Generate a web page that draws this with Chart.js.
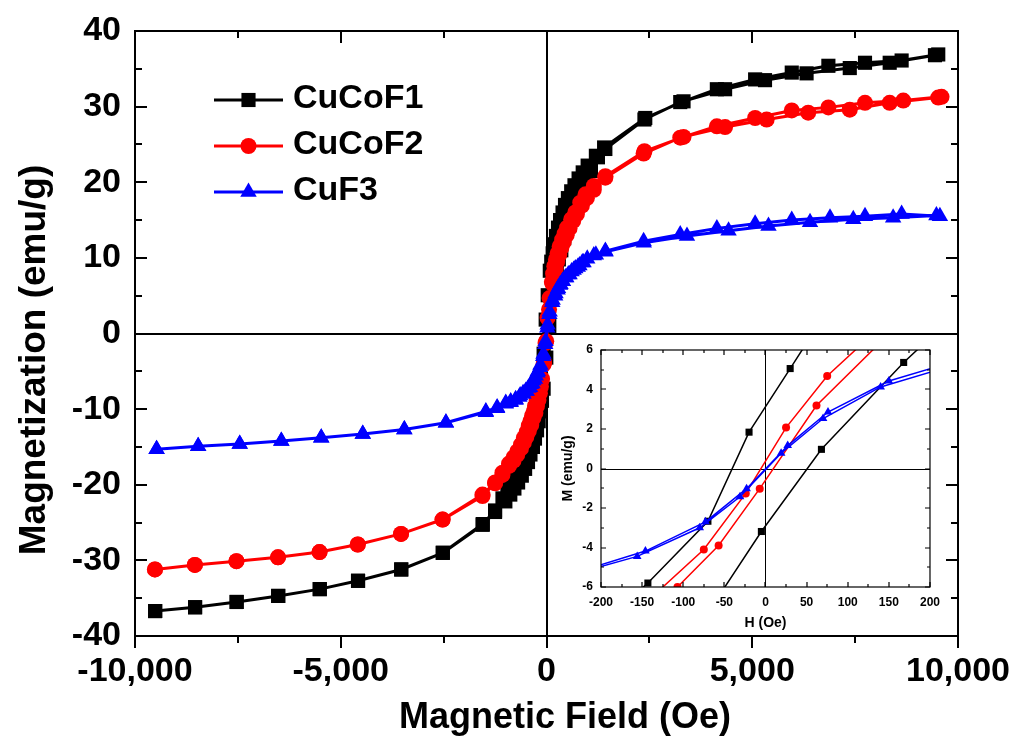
<!DOCTYPE html>
<html><head><meta charset="utf-8">
<script src="https://cdn.jsdelivr.net/npm/chart.js@4.4.1/dist/chart.umd.min.js"></script>
<style>
html,body{margin:0;padding:0;background:#fff;}
#wrap{position:relative;width:1029px;height:738px;background:#fff;}
#main{position:absolute;left:0;top:0;}
#inset{position:absolute;left:555px;top:336px;}
</style></head><body>
<div id="wrap">
<canvas id="main" width="1029" height="738"></canvas>
<canvas id="inset" width="395" height="298"></canvas>
</div>
<script>
// ---------------- data ----------------
const seriesNames = ['CuCoF1', 'CuCoF2', 'CuF3'];
const mainXTitle = 'Magnetic Field (Oe)';
const mainYTitle = 'Magnetization (emu/g)';
const insetXTitle = 'H (Oe)';
const insetYTitle = 'M (emu/g)';

// CuCoF1: field sweep down (+H -> -H) then up (-H -> +H)
const cucof1Field = [9520, 8630, 7740, 6850, 5960, 5070, 4140, 3330, 2400, 1400, 1200, 1000, 880, 780, 680, 600, 520, 450, 390, 330, 280, 230, 190, 150, 115, 80, 30, -20, -70, -143, -185, -230, -280, -340, -400, -480, -560, -650, -750, -850, -950, -1070, -1250, -1550, -2520, -3530, -4580, -5510, -6520, -7530, -8540, -9510,
  -9510, -8540, -7530, -6520, -5510, -4580, -3530, -2520, -1550, -1250, -1000, -880, -780, -690, -600, -520, -450, -390, -330, -280, -230, -190, -150, -110, -70, -5, 68, 168, 210, 250, 300, 360, 430, 500, 580, 660, 760, 860, 960, 1080, 1250, 1430, 2380, 3250, 4340, 5310, 6320, 7370, 8340, 9440];
const cucof1Moment = [36.9, 36.1, 35.8, 35.4, 34.5, 33.6, 32.3, 30.7, 28.5, 24.6, 23.5, 22.2, 21.3, 20.5, 19.6, 18.8, 17.9, 17.0, 16.0, 15.0, 14.0, 12.9, 11.8, 10.6, 9.5, 8.3, 5.06, 1.84, -2.67, -5.8, -7.3, -8.6, -10.0, -11.3, -12.8, -14.2, -15.6, -16.9, -18.2, -19.4, -20.6, -21.8, -23.4, -25.2, -29.0, -31.2, -32.7, -33.8, -34.7, -35.5, -36.2, -36.7,
  -36.7, -36.2, -35.5, -34.7, -33.8, -32.7, -31.2, -29.0, -25.3, -23.6, -22.2, -21.3, -20.5, -19.7, -18.8, -17.9, -17.0, -16.0, -15.0, -13.9, -12.8, -11.6, -10.3, -8.9, -7.3, -3.19, 0.97, 5.37, 7.0, 8.4, 9.8, 11.0, 12.6, 13.9, 15.3, 16.6, 17.9, 19.1, 20.3, 21.5, 23.3, 24.4, 28.3, 30.6, 32.3, 33.5, 34.4, 35.1, 35.8, 36.8];

// CuCoF2
const cucof2Field = [9600, 8670, 7740, 6850, 5960, 5070, 4140, 3330, 2380, 1430, 1150, 950, 820, 700, 600, 500, 440, 380, 320, 270, 230, 190, 160, 130, 75, 25, -24, -75, -130, -165, -200, -240, -280, -310, -350, -390, -430, -480, -550, -620, -710, -800, -910, -1070, -1250, -1555, -2525, -3535, -4586, -5515, -6525, -7535, -8545, -9515,
  -9515, -8545, -7535, -6525, -5515, -4586, -3535, -2525, -1555, -1250, -1070, -910, -800, -710, -620, -550, -490, -430, -370, -320, -270, -230, -195, -160, -135, -107, -57, -7, 62, 145, 180, 220, 260, 310, 360, 420, 490, 560, 650, 740, 860, 980, 1150, 1430, 2360, 3250, 4340, 5350, 6360, 7370, 8340, 9520];
const cucof2Moment = [31.3, 30.8, 30.5, 29.9, 29.5, 28.5, 27.4, 26.0, 24.1, 20.8, 19.5, 18.4, 17.3, 16.0, 15.1, 14.0, 13.2, 12.4, 11.5, 10.6, 9.8, 8.9, 7.9, 6.8, 4.68, 2.07, -1.26, -4.10, -6.2, -7.1, -8.0, -8.8, -9.6, -10.3, -10.9, -11.6, -12.2, -13.0, -13.8, -14.7, -15.6, -16.4, -17.2, -18.4, -19.7, -21.3, -24.6, -26.5, -27.9, -28.9, -29.6, -30.1, -30.6, -31.2,
  -31.2, -30.6, -30.1, -29.6, -28.9, -27.9, -26.5, -24.6, -21.5, -19.8, -18.7, -17.5, -16.8, -16.0, -15.2, -14.4, -13.7, -12.9, -12.1, -11.2, -10.5, -9.6, -8.8, -7.9, -7.0, -6.0, -3.90, -1.02, 3.19, 6.6, 7.6, 8.6, 9.5, 10.4, 11.3, 12.1, 13.0, 13.9, 14.9, 15.8, 16.9, 17.9, 19.0, 20.6, 23.8, 25.9, 27.3, 28.3, 29.2, 29.6, 30.5, 31.2];

// CuF3
const cuf3Field = [9560, 8630, 7740, 6890, 5960, 5070, 4140, 3250, 2360, 1430, 1200, 990, 870, 760, 660, 560, 480, 400, 340, 280, 220, 150, 76, 27, -23, -73, -146, -210, -260, -320, -380, -440, -505, -570, -640, -750, -870, -990, -1200, -1474, -2444, -3455, -4465, -5474, -6444, -7455, -8465, -9475,
  -9475, -8465, -7455, -6444, -5474, -4465, -3455, -2444, -1474, -1200, -990, -870, -750, -660, -560, -480, -400, -340, -280, -220, -156, -80, -31, 19, 70, 140, 210, 270, 330, 390, 460, 530, 610, 700, 800, 900, 1150, 1434, 2364, 3414, 4424, 5394, 6404, 7455, 8424, 9475];
const cuf3Moment = [15.5, 15.8, 15.5, 15.3, 15.0, 14.5, 13.9, 13.1, 12.2, 10.9, 10.4, 9.9, 9.4, 8.8, 8.4, 7.8, 7.4, 6.9, 6.5, 6.0, 5.3, 4.43, 2.86, 1.16, -1.02, -2.70, -4.18, -5.0, -5.6, -6.2, -6.7, -7.2, -7.6, -7.9, -8.2, -8.7, -9.0, -9.2, -9.8, -10.3, -11.8, -12.7, -13.3, -13.8, -14.2, -14.6, -14.9, -15.3,
  -15.3, -14.9, -14.6, -14.2, -13.8, -13.3, -12.7, -11.8, -10.4, -9.9, -9.3, -9.1, -8.8, -8.4, -8.0, -7.6, -7.1, -6.6, -6.0, -5.2, -4.45, -3.0, -1.43, 0.77, 2.53, 4.13, 5.0, 5.8, 6.4, 6.9, 7.4, 7.8, 8.2, 8.6, 9.0, 9.4, 10.3, 10.8, 12.0, 12.9, 13.6, 14.2, 14.7, 15.1, 15.3, 15.6];

// main axes ticks
const mainXTicks = [-10000, -5000, 0, 5000, 10000];
const mainXTickLabels = ['-10,000', '-5,000', '0', '5,000', '10,000'];
const mainXMinor = [-7500, -2500, 2500, 7500];
const mainYTicks = [-40, -30, -20, -10, 0, 10, 20, 30, 40];
const mainYTickLabels = ['-40', '-30', '-20', '-10', '0', '10', '20', '30', '40'];
const mainYMinor = [-35, -25, -15, -5, 5, 15, 25, 35];

// inset axes ticks
const insetXTicks = [-200, -150, -100, -50, 0, 50, 100, 150, 200];
const insetXTickLabels = ['-200', '-150', '-100', '-50', '0', '50', '100', '150', '200'];
const insetXMinor = [-175, -125, -75, -25, 25, 75, 125, 175];
const insetYTicks = [-6, -4, -2, 0, 2, 4, 6];
const insetYTickLabels = ['-6', '-4', '-2', '0', '2', '4', '6'];
const insetYMinor = [-5, -3, -1, 1, 3, 5];

// ---------------- styling ----------------
const FONT = '"Liberation Sans", Arial, Helvetica, sans-serif';
const colors = ['#000000', '#ff0000', '#0000ff'];
const styles = ['rect', 'circle', 'triangle'];
const mainRadius = [10, 8, 9.5];
const insetRadius = [5, 4, 5];
const drawOrder = [3, 2, 1];

const fieldArrays = [cucof1Field, cucof2Field, cuf3Field];
const momentArrays = [cucof1Moment, cucof2Moment, cuf3Moment];
function pts(i) { return fieldArrays[i].map((h, k) => ({x: h, y: momentArrays[i][k]})); }

function makeDatasets(radius, lw, clip) {
  return seriesNames.map((name, i) => ({
    label: name,
    data: pts(i),
    borderColor: colors[i],
    backgroundColor: colors[i],
    pointBackgroundColor: colors[i],
    pointBorderColor: colors[i],
    pointBorderWidth: 0,
    pointStyle: styles[i],
    pointRadius: radius[i],
    pointHoverRadius: radius[i],
    borderWidth: lw,
    tension: 0,
    fill: false,
    order: drawOrder[i],
    clip: clip
  }));
}

function drawTicks(ctx, a, xs, ys, xMaj, xMin, yMaj, yMin, lenMaj, lenMin, bottomOutside) {
  ctx.beginPath();
  const xv = [[xMaj, lenMaj], [xMin, lenMin]];
  for (const [vals, len] of xv) {
    for (const v of vals) {
      const p = Math.round(xs.getPixelForValue(v));
      if (bottomOutside) { ctx.moveTo(p, a.bottom); ctx.lineTo(p, a.bottom + len); }
      else { ctx.moveTo(p, a.bottom); ctx.lineTo(p, a.bottom - len); }
      ctx.moveTo(p, a.top); ctx.lineTo(p, a.top + len);
    }
  }
  const yv = [[yMaj, lenMaj], [yMin, lenMin]];
  for (const [vals, len] of yv) {
    for (const v of vals) {
      const p = Math.round(ys.getPixelForValue(v));
      ctx.moveTo(a.left, p); ctx.lineTo(a.left + len, p);
      ctx.moveTo(a.right, p); ctx.lineTo(a.right - len, p);
    }
  }
  ctx.stroke();
}

const mainDecor = {
  id: 'mainDecor',
  beforeDatasetsDraw(chart) {
    const {ctx, chartArea: a, scales: {x, y}} = chart;
    ctx.save();
    ctx.strokeStyle = '#000'; ctx.lineWidth = 2;
    const x0 = Math.round(x.getPixelForValue(0)), y0 = Math.round(y.getPixelForValue(0));
    ctx.beginPath();
    ctx.moveTo(x0, a.top); ctx.lineTo(x0, a.bottom);
    ctx.moveTo(a.left, y0); ctx.lineTo(a.right, y0);
    ctx.stroke();
    ctx.restore();
  },
  afterDatasetsDraw(chart) {
    const {ctx, chartArea: a, scales: {x, y}} = chart;
    ctx.save();
    ctx.strokeStyle = '#000'; ctx.lineWidth = 2;
    ctx.strokeRect(a.left, a.top, a.right - a.left, a.bottom - a.top);
    drawTicks(ctx, a, x, y, mainXTicks, mainXMinor, mainYTicks, mainYMinor, 12, 7, true);
    // legend: line + marker + label
    chart.data.datasets.forEach((ds, i) => {
      const ly = 100 + i * 46;
      ctx.strokeStyle = ds.borderColor; ctx.lineWidth = 3;
      ctx.beginPath(); ctx.moveTo(214, ly); ctx.lineTo(283, ly); ctx.stroke();
      ctx.fillStyle = ds.borderColor; ctx.strokeStyle = ds.borderColor;
      Chart.helpers.drawPoint(ctx, {pointStyle: ds.pointStyle, radius: ds.pointRadius, rotation: 0, borderWidth: 0}, 248.5, ly);
      ctx.fillStyle = '#000';
      ctx.font = 'bold 34px ' + FONT;
      ctx.textAlign = 'left'; ctx.textBaseline = 'middle';
      ctx.fillText(ds.label, 293, ly - 1);
    });
    // axis titles
    ctx.fillStyle = '#000';
    ctx.textAlign = 'center'; ctx.textBaseline = 'middle';
    ctx.font = 'bold 36px ' + FONT;
    ctx.fillText(mainXTitle, 565, 718);
    ctx.save();
    ctx.translate(35, 360);
    ctx.rotate(-Math.PI / 2);
    ctx.font = 'bold 37px ' + FONT;
    ctx.fillText(mainYTitle, 0, 0);
    ctx.restore();
    ctx.restore();
  }
};

const insetDecor = {
  id: 'insetDecor',
  beforeDatasetsDraw(chart) {
    const {ctx, chartArea: a, scales: {x, y}} = chart;
    ctx.save();
    ctx.strokeStyle = '#000'; ctx.lineWidth = 1;
    const x0 = Math.round(x.getPixelForValue(0)) + 0.5, y0 = Math.round(y.getPixelForValue(0)) + 0.5;
    ctx.beginPath();
    ctx.moveTo(x0, a.top); ctx.lineTo(x0, a.bottom);
    ctx.moveTo(a.left, y0); ctx.lineTo(a.right, y0);
    ctx.stroke();
    ctx.restore();
  },
  afterDatasetsDraw(chart) {
    const {ctx, chartArea: a, scales: {x, y}} = chart;
    ctx.save();
    ctx.strokeStyle = '#000'; ctx.lineWidth = 1.2;
    ctx.strokeRect(a.left, a.top, a.right - a.left, a.bottom - a.top);
    drawTicks(ctx, a, x, y, insetXTicks, insetXMinor, insetYTicks, insetYMinor, 5, 3, false);
    ctx.restore();
  }
};

function tickFont(size) { return {family: FONT, size: size, weight: 'bold', lineHeight: 1}; }

new Chart(document.getElementById('main'), {
  type: 'line',
  data: {datasets: makeDatasets(mainRadius, 3, 4)},
  options: {
    responsive: false, animation: false, devicePixelRatio: 1,
    layout: {padding: {top: 30, right: 69, bottom: 0, left: 0}},
    plugins: {legend: {display: false}, tooltip: {enabled: false}},
    events: [],
    scales: {
      x: {
        type: 'linear', min: -10000, max: 10000,
        afterBuildTicks: s => { s.ticks = mainXTicks.map(v => ({value: v})); },
        afterFit: s => { s.height = 102; },
        grid: {display: false, drawTicks: false}, border: {display: false},
        ticks: {font: tickFont(34), color: '#000', padding: 19, maxRotation: 0, autoSkip: false,
          callback: v => mainXTickLabels[mainXTicks.indexOf(v)]},
        title: {display: false}
      },
      y: {
        type: 'linear', min: -40, max: 40,
        afterBuildTicks: s => { s.ticks = mainYTicks.map(v => ({value: v})); },
        afterFit: s => { s.width = 135; },
        grid: {display: false, drawTicks: false}, border: {display: false},
        ticks: {font: tickFont(34), color: '#000', padding: 14, autoSkip: false,
          callback: v => mainYTickLabels[mainYTicks.indexOf(v)]},
        title: {display: false}
      }
    }
  },
  plugins: [mainDecor]
});

new Chart(document.getElementById('inset'), {
  type: 'line',
  data: {datasets: makeDatasets(insetRadius, 1.5, 0)},
  options: {
    responsive: false, animation: false, devicePixelRatio: 1,
    layout: {padding: {top: 9, right: 19, bottom: 0, left: 0}},
    plugins: {legend: {display: false}, tooltip: {enabled: false}},
    events: [],
    scales: {
      x: {
        type: 'linear', min: -200, max: 200,
        afterBuildTicks: s => { s.ticks = insetXTicks.map(v => ({value: v})); },
        afterFit: s => { s.height = 47; },
        grid: {display: false, drawTicks: false}, border: {display: false},
        ticks: {font: tickFont(12), color: '#000', padding: 10, maxRotation: 0, autoSkip: false,
          callback: v => insetXTickLabels[insetXTicks.indexOf(v)]},
        title: {display: true, text: insetXTitle, color: '#000',
          font: {family: FONT, size: 14, weight: 'bold', lineHeight: 1}, padding: {top: 0, bottom: 4}}
      },
      y: {
        type: 'linear', min: -6, max: 6,
        afterBuildTicks: s => { s.ticks = insetYTicks.map(v => ({value: v})); },
        afterFit: s => { s.width = 46; },
        grid: {display: false, drawTicks: false}, border: {display: false},
        ticks: {font: tickFont(12), color: '#000', padding: 8, autoSkip: false,
          callback: v => insetYTickLabels[insetYTicks.indexOf(v)]},
        title: {display: true, text: insetYTitle, color: '#000',
          font: {family: FONT, size: 14, weight: 'bold', lineHeight: 1}, padding: {top: 6, bottom: 0}}
      }
    }
  },
  plugins: [insetDecor]
});
</script>
</body></html>
